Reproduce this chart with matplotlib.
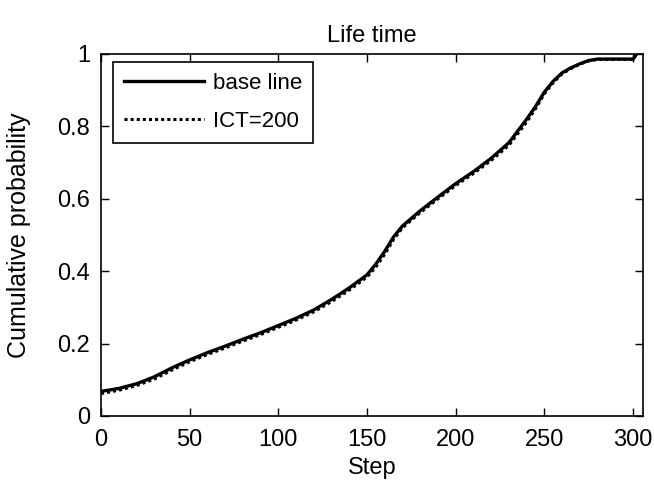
import matplotlib
matplotlib.use('Agg')
import matplotlib.pyplot as plt

# values (cumulative distribution of life time)
steps = [0, 10, 20, 30, 40, 50, 60, 70, 80, 90, 100, 110, 120, 130, 140,
         150, 155, 160, 165, 170, 180, 190, 200, 210, 220, 230, 240, 245,
         250, 255, 260, 265, 270, 275, 280, 290, 300, 302]
base_line = [0.068, 0.076, 0.089, 0.108, 0.133, 0.155, 0.175, 0.193, 0.212,
             0.230, 0.250, 0.270, 0.293, 0.322, 0.354, 0.390, 0.420, 0.455,
             0.495, 0.525, 0.567, 0.605, 0.642, 0.675, 0.712, 0.755, 0.820,
             0.855, 0.895, 0.925, 0.948, 0.962, 0.973, 0.982, 0.986, 0.986,
             0.986, 1.0]
ict_200 = [0.062, 0.071, 0.084, 0.102, 0.127, 0.150, 0.170, 0.188, 0.207,
           0.225, 0.245, 0.265, 0.288, 0.316, 0.348, 0.384, 0.412, 0.447,
           0.488, 0.520, 0.562, 0.600, 0.637, 0.670, 0.706, 0.748, 0.812,
           0.849, 0.890, 0.921, 0.945, 0.960, 0.972, 0.981, 0.985, 0.985,
           0.985, 1.0]

plt.rcParams['font.family'] = ['Liberation Sans', 'DejaVu Sans']
plt.rcParams['font.size'] = 17

fig = plt.figure(figsize=(6.54, 4.92), dpi=100)
ax = fig.add_axes([101 / 654, 1 - 416 / 492, 542 / 654, 362 / 492])

ax.plot(steps, base_line, color='black', linewidth=2.4, label='base line')
ax.plot(steps, ict_200, color='black', linewidth=2.2, linestyle=(0, (1, 1)),
        label='ICT=200')

ax.set_xlim(0, 305.6)
ax.set_ylim(0, 1)
ax.set_xticks([0, 50, 100, 150, 200, 250, 300])
ax.set_yticks([0, 0.2, 0.4, 0.6, 0.8, 1])
ax.set_yticklabels(['0', '0.2', '0.4', '0.6', '0.8', '1'])
ax.tick_params(axis='x', direction='in', top=True, length=6, width=1, pad=9)
ax.tick_params(axis='y', direction='in', right=True, length=6, width=1, pad=8)
for s in ax.spines.values():
    s.set_linewidth(1.2)

ax.set_title('Life time', fontsize=17, pad=9)
ax.set_xlabel('Step', labelpad=5)
ax.set_ylabel('Cumulative probability', fontsize=18, labelpad=19)

leg = ax.legend(loc='upper left', bbox_to_anchor=(12 / 542, 1 - 8 / 362),
                borderaxespad=0, fontsize=16, fancybox=False,
                edgecolor='black', framealpha=1, handlelength=3.6,
                handletextpad=0.4, borderpad=0.5, labelspacing=0.75)
leg.get_frame().set_linewidth(1.2)

fig.savefig('out.png', dpi=100)
